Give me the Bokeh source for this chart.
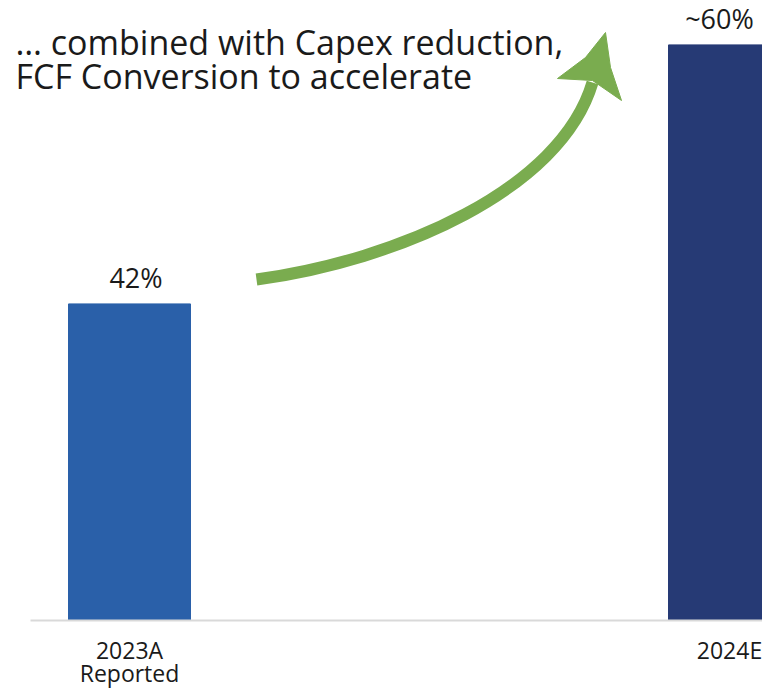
from bokeh.plotting import figure
from bokeh.models import Range1d, ColumnDataSource
from bokeh.core.properties import value
from bokeh.embed import file_html
from bokeh.resources import INLINE

# ---------------- data ----------------
categories = ["2023A\nReported", "2024E"]
values = [42, 60]
value_labels = ["42%", "~60%"]
headline = ["\u2026 combined with Capex reduction,", "FCF Conversion to accelerate"]

# ---------------- style ----------------
bar_colors = ["#2A60A9", "#263A75"]
green = "#7AAC4F"
text_color = "#1a1a1a"
FONT = "Open Sans"
W, H = 762, 689
base_left, base_right = 30, 762
axis_py = 620
bar0_px, bar_step_px, bar_w_px = 129, 600, 122
y_base = 20
px_per_unit = 14.39


def dx(px):
    return (px - bar0_px) / bar_step_px


def dy(py):
    return y_base + (axis_py - py) / px_per_unit


p = figure(width=W, height=H, output_backend="svg", toolbar_location=None,
           x_range=Range1d(dx(0), dx(W)),
           y_range=Range1d(dy(H), dy(0)),
           min_border_left=0, min_border_right=0,
           min_border_top=0, min_border_bottom=0)
p.outline_line_color = None
p.grid.visible = False
p.axis.visible = False
p.background_fill_color = "white"
p.border_fill_color = "white"

xs = list(range(len(categories)))
src = ColumnDataSource(dict(x=xs, top=values, color=bar_colors, label=value_labels,
                            xoff=[6.5, -10]))
p.vbar(x="x", top="top", bottom=y_base, width=bar_w_px / bar_step_px,
       color="color", source=src)
p.text(x="x", y="top", text="label", source=src, x_offset="xoff", y_offset=-26,
       text_align="center", text_baseline="alphabetic",
       text_font=value(FONT), text_font_size="27px", text_color=text_color)

# baseline (category axis line)
p.segment(x0=[dx(base_left)], y0=[y_base], x1=[dx(base_right)], y1=[y_base],
          line_color="#d9d9d9", line_width=2)

# category labels, one text per line
cx, cy, ct = [], [], []
for i, cat in zip(xs, categories):
    for k, line in enumerate(cat.split("\n")):
        cx.append(i)
        cy.append(dy(649 + 23 * k))
        ct.append(line)
p.text(x=cx, y=cy, text=ct, text_align="center", text_baseline="alphabetic",
       text_font=value(FONT), text_font_size="23px", text_color=text_color)

# headline
p.text(x=[dx(15), dx(15)], y=[dy(41), dy(75)], text=headline,
       text_align="left", text_baseline="alphabetic",
       text_font=value(FONT), text_font_size="34px", text_color=text_color)

# curved arrow
p.bezier(x0=[dx(256)], y0=[dy(279)], x1=[dx(592)], y1=[dy(82)],
         cx0=[dx(396)], cy0=[dy(260)], cx1=[dx(560)], cy1=[dy(190)],
         line_color=green, line_width=12)
head_px = [(605, 32), (585, 57), (557, 78), (592, 80), (621, 100), (610, 67)]
p.patch(x=[dx(a) for a, b in head_px], y=[dy(b) for a, b in head_px],
        fill_color=green, line_color=green, line_width=1)

open("out.html", "w").write(file_html(p, INLINE))
